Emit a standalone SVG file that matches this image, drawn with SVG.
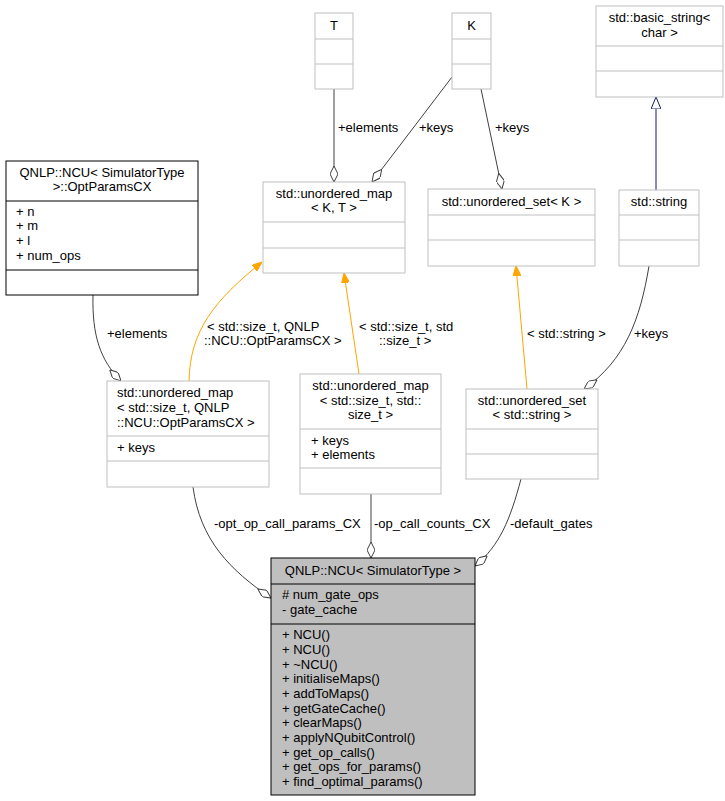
<svg xmlns="http://www.w3.org/2000/svg" width="725" height="801" viewBox="0 0 725 801">
<defs>
<style>
text{font-family:"Liberation Sans",Arial,sans-serif;font-size:13px;fill:#000}
.c{text-anchor:middle}
.g{fill:#fff;stroke:#bfbfbf;stroke-width:1}
.b{fill:#fff;stroke:#000;stroke-width:1}
.m{fill:#bfbfbf;stroke:#000;stroke-width:1}
.e{fill:none;stroke:#404040;stroke-width:1}
.o{fill:none;stroke:#ffa500;stroke-width:1}
.u{fill:none;stroke:#191970;stroke-width:1}
</style>
<marker id="dia" viewBox="0 0 16 8" refX="16" refY="4" markerWidth="16" markerHeight="8" markerUnits="userSpaceOnUse" orient="auto"><path d="M0,4 L8,0 L16,4 L8,8 Z" fill="#fff" stroke="#404040"/></marker>
<marker id="oa" viewBox="0 0 10 8" refX="10" refY="4" markerWidth="10" markerHeight="8" markerUnits="userSpaceOnUse" orient="auto"><path d="M0,0 L10,4 L0,8 Z" fill="#ffa500" stroke="#ffa500"/></marker>
<marker id="tri" viewBox="0 0 12 10" refX="12" refY="5" markerWidth="12" markerHeight="10" markerUnits="userSpaceOnUse" orient="auto"><path d="M0,0 L12,5 L0,10 Z" fill="#fff" stroke="#191970"/></marker>
</defs>
<g id="connectors">
<path class="e" d="M334,89 L334,182" marker-end="url(#dia)"/>
<text x="338" y="132">+elements</text>
<path class="e" d="M452,77 L372,182" marker-end="url(#dia)"/>
<text x="419" y="132">+keys</text>
<path class="e" d="M481,89 L502,189" marker-end="url(#dia)"/>
<text x="495" y="132">+keys</text>
<path class="u" d="M656,190 L656,97" marker-end="url(#tri)"/>
<path class="e" d="M93,295 C92,335 100,360 121,381" marker-end="url(#dia)"/>
<text x="107" y="338">+elements</text>
<path class="o" d="M189,381 C190,330 215,300 262,262" marker-end="url(#oa)"/>
<text x="207" y="331">&lt; std::size_t, QNLP</text>
<text x="204" y="345">::NCU::OptParamsCX &gt;</text>
<path class="o" d="M359,374 L344,273" marker-end="url(#oa)"/>
<text x="359" y="331">&lt; std::size_t, std</text>
<text x="379" y="345">::size_t &gt;</text>
<path class="o" d="M527,389 L516,266" marker-end="url(#oa)"/>
<text x="527" y="338">&lt; std::string &gt;</text>
<path class="e" d="M649,266 C640,320 625,360 584,389" marker-end="url(#dia)"/>
<text x="634" y="338">+keys</text>
<path class="e" d="M193,487 C200,540 230,570 271,598" marker-end="url(#dia)"/>
<text x="214" y="528">-opt_op_call_params_CX</text>
<path class="e" d="M371,494 L371,558" marker-end="url(#dia)"/>
<text x="374" y="528">-op_call_counts_CX</text>
<path class="e" d="M521,479 C510,520 500,545 475,566" marker-end="url(#dia)"/>
<text x="510" y="528">-default_gates</text>
</g>
<g id="T"><rect class="g" x="315" y="13" width="38" height="76"/><path class="g" d="M315,39H353M315,64H353"/><text class="c" x="334" y="30">T</text></g>
<g id="K"><rect class="g" x="452" y="13" width="39" height="76"/><path class="g" d="M452,39H491M452,64H491"/><text class="c" x="471.5" y="30">K</text></g>
<g id="basic_string"><rect class="g" x="596" y="6" width="127" height="91"/><path class="g" d="M596,46H723M596,71H723"/><text class="c" x="659.5" y="22">std::basic_string&lt;</text><text class="c" x="659.5" y="37">char &gt;</text></g>
<g id="optparams"><rect class="b" x="6" y="161" width="192" height="134"/><path class="b" d="M6,201H198M6,270H198"/><text class="c" x="102" y="177">QNLP::NCU&lt; SimulatorType</text><text class="c" x="102" y="191">&gt;::OptParamsCX</text><text x="16" y="216">+ n</text><text x="16" y="230">+ m</text><text x="16" y="245">+ l</text><text x="16" y="260">+ num_ops</text></g>
<g id="map_KT"><rect class="g" x="263" y="182" width="142" height="91"/><path class="g" d="M263,222H405M263,248H405"/><text class="c" x="334" y="198">std::unordered_map</text><text class="c" x="334" y="212">&lt; K, T &gt;</text></g>
<g id="set_K"><rect class="g" x="428" y="189" width="167" height="77"/><path class="g" d="M428,215H595M428,240H595"/><text class="c" x="511.5" y="206">std::unordered_set&lt; K &gt;</text></g>
<g id="string"><rect class="g" x="619" y="190" width="80" height="76"/><path class="g" d="M619,215H699M619,240H699"/><text class="c" x="659" y="206">std::string</text></g>
<g id="map_opt"><rect class="g" x="107" y="381" width="162" height="106"/><path class="g" d="M107,436H269M107,461H269"/><text x="117" y="397">std::unordered_map</text><text x="117" y="412">&lt; std::size_t, QNLP</text><text x="117" y="427">::NCU::OptParamsCX &gt;</text><text x="117" y="452">+ keys</text></g>
<g id="map_size"><rect class="g" x="300" y="374" width="141" height="120"/><path class="g" d="M300,429H441M300,468H441"/><text class="c" x="370.5" y="390">std::unordered_map</text><text class="c" x="370.5" y="405">&lt; std::size_t, std::</text><text class="c" x="370.5" y="419">size_t &gt;</text><text x="311" y="445">+ keys</text><text x="311" y="459">+ elements</text></g>
<g id="set_string"><rect class="g" x="466" y="389" width="132" height="90"/><path class="g" d="M466,429H598M466,454H598"/><text class="c" x="532" y="405">std::unordered_set</text><text class="c" x="532" y="419">&lt; std::string &gt;</text></g>
<g id="ncu"><rect class="m" x="271" y="558" width="204" height="237"/><path class="m" d="M271,584H475M271,624H475"/><text class="c" x="373" y="575">QNLP::NCU&lt; SimulatorType &gt;</text>
<text x="282" y="599"># num_gate_ops</text><text x="282" y="614">- gate_cache</text>
<text x="282" y="639">+ NCU()</text><text x="282" y="654">+ NCU()</text><text x="282" y="669">+ ~NCU()</text><text x="282" y="683">+ initialiseMaps()</text><text x="282" y="698">+ addToMaps()</text><text x="282" y="713">+ getGateCache()</text><text x="282" y="727">+ clearMaps()</text><text x="282" y="742">+ applyNQubitControl()</text><text x="282" y="757">+ get_op_calls()</text><text x="282" y="771">+ get_ops_for_params()</text><text x="282" y="786">+ find_optimal_params()</text></g>
</svg>
